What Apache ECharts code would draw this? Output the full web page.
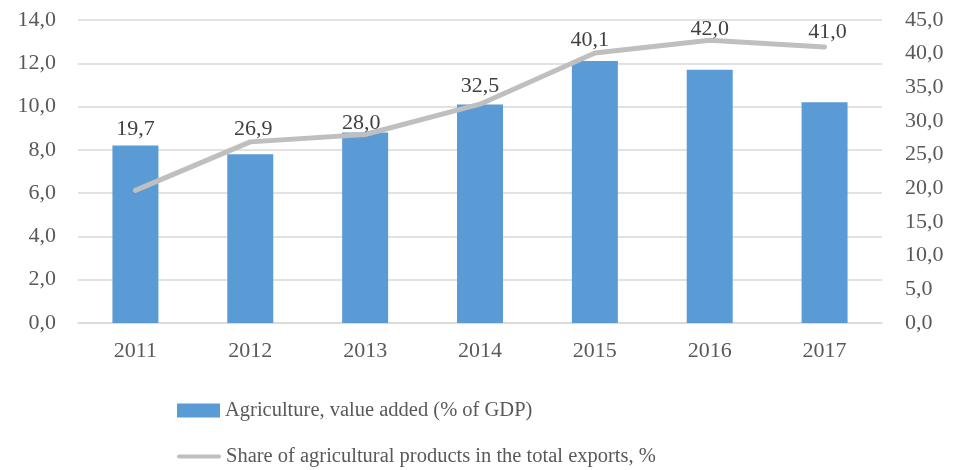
<!DOCTYPE html>
<html><head><meta charset="utf-8">
<script src="https://cdn.jsdelivr.net/npm/echarts@6/dist/echarts.min.js"></script>
<style>html,body{margin:0;padding:0;background:#fff}#c{width:956px;height:470px}</style>
</head><body><div id="c"></div>
<script>
const years = ['2011','2012','2013','2014','2015','2016','2017'];
const agriValueAdded = [8.2, 7.8, 8.8, 10.1, 12.1, 11.7, 10.2];
const exportShare = [19.7, 26.9, 28.0, 32.5, 40.1, 42.0, 41.0];
const leftTicks = {min: 0, max: 14, interval: 2};
const rightTicks = {min: 0, max: 45, interval: 5};
const seriesNames = ['Agriculture, value added (% of GDP)', 'Share of agricultural products in the total exports, %'];

// label nudges (style only), as in the original manually placed labels
const labelNudges = [[0, -49], [3, 0], [-4, 1], [0, -5], [-5, 0], [0, 2], [3, -2]];

const font = 'Liberation Serif';
const fmt = v => v.toFixed(1).replace('.', ',');
const legendText = {fontFamily: font, fontSize: 20.5, color: '#595959'};
const chart = echarts.init(document.getElementById('c'));
chart.setOption({
  animation: false,
  textStyle: {fontFamily: font},
  grid: {left: 78, right: 74, top: 20, bottom: 147},
  legend: [{
    left: 177, top: 400, itemWidth: 43, itemHeight: 14, itemGap: 6, padding: 0,
    textStyle: legendText,
    data: [{name: seriesNames[0], icon: 'rect'}]
  }, {
    left: 177, top: 446, itemWidth: 44, itemHeight: 16, itemGap: 6, padding: 0,
    textStyle: legendText,
    data: [{name: seriesNames[1], icon: 'path://M2,6 L42,6 A2,2 0 0 1 42,10 L2,10 A2,2 0 0 1 2,6 Z',
            itemStyle: {color: '#BFBFBF', opacity: 1}}]
  }],
  xAxis: {
    type: 'category', data: years,
    axisLine: {lineStyle: {color: '#D9D9D9', width: 1.5}},
    axisTick: {show: false},
    axisLabel: {color: '#595959', fontSize: 22, margin: 17, fontFamily: font}
  },
  yAxis: [{
    type: 'value', min: leftTicks.min, max: leftTicks.max, interval: leftTicks.interval,
    axisLabel: {color: '#595959', fontSize: 22, margin: 22, formatter: fmt, fontFamily: font},
    splitLine: {lineStyle: {color: '#D9D9D9', width: 1.5}},
    axisLine: {show: false}, axisTick: {show: false}
  }, {
    type: 'value', min: rightTicks.min, max: rightTicks.max, interval: rightTicks.interval,
    axisLabel: {color: '#595959', fontSize: 22, margin: 23, formatter: fmt, fontFamily: font},
    splitLine: {show: false},
    axisLine: {show: false}, axisTick: {show: false}
  }],
  series: [{
    name: seriesNames[0], type: 'bar', data: agriValueAdded, yAxisIndex: 0,
    barWidth: 46, itemStyle: {color: '#5B9BD5'}
  }, {
    name: seriesNames[1], type: 'line', yAxisIndex: 1,
    data: exportShare.map((v, i) => ({value: v, label: {offset: labelNudges[i]}})),
    symbol: 'circle', symbolSize: 1, showSymbol: true,
    lineStyle: {color: '#BFBFBF', width: 5, cap: 'round', join: 'round'},
    itemStyle: {color: '#BFBFBF', opacity: 0},
    label: {show: true, position: 'top', distance: 1, color: '#404040', fontSize: 22,
      fontFamily: font, opacity: 1, formatter: p => fmt(p.value)}
  }]
});
</script></body></html>
